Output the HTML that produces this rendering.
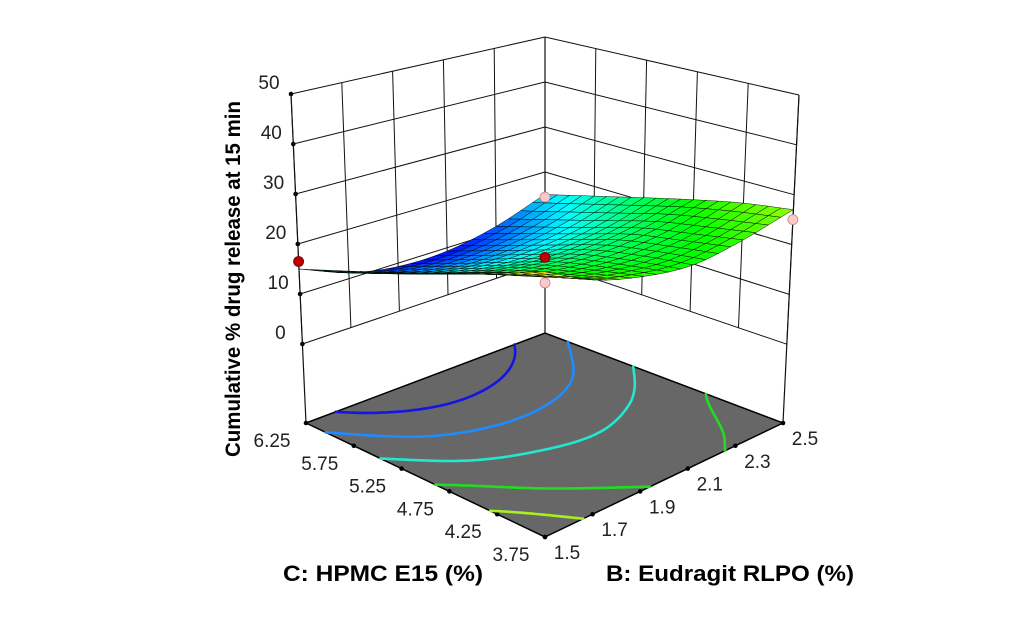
<!DOCTYPE html>
<html><head><meta charset="utf-8"><style>
html,body{margin:0;padding:0;background:#fff;}
svg{display:block;font-family:"Liberation Sans",sans-serif;}
</style></head><body>
<svg id="chart" width="1009" height="634" viewBox="0 0 1009 634" xmlns="http://www.w3.org/2000/svg">
<rect width="1009" height="634" fill="#fff"/>
<g id="walls"></g>
<g id="floor"></g>
<g id="contours"></g>
<g id="ptsBelow"></g>
<g id="surface"></g>
<g id="ptsAbove"></g>
<g id="labels"></g>
<text x="383" y="581" text-anchor="middle" font-size="22" font-weight="bold" fill="#000" textLength="200" lengthAdjust="spacingAndGlyphs">C: HPMC E15 (%)</text>
<text x="730" y="581" text-anchor="middle" font-size="22" font-weight="bold" fill="#000" textLength="248" lengthAdjust="spacingAndGlyphs">B: Eudragit RLPO (%)</text>
<text transform="translate(240,279) rotate(-90)" text-anchor="middle" font-size="21" font-weight="bold" fill="#000" textLength="356" lengthAdjust="spacingAndGlyphs">Cumulative % drug release at 15 min</text>
</svg>
<script>
const bVals=[1.5,1.7,1.9,2.1,2.3,2.5];
const cVals=[3.75,4.25,4.75,5.25,5.75,6.25];
const zTicks=[0,10,20,30,40,50];
const bLabels=["1.5","1.7","1.9","2.1","2.3","2.5"];
const cLabels=["3.75","4.25","4.75","5.25","5.75","6.25"];
// response values: one array per HPMC level, across Eudragit levels
const resp_c375=[32,27.3,24.6,23.3,24.6,27];
const resp_c425=[28.6,24.7,22.6,21.9,22.8,25.5];
const resp_c475=[25.2,21.9,20.3,19.9,20.9,23.3];
const resp_c525=[21.8,18.4,16.8,16.6,17.8,20.7];
const resp_c575=[18.4,14.8,13.0,13.0,14.6,17.9];
const resp_c625=[15,11.2,9.3,9.3,11.3,15];
const contourLevels=[12.5,16.4,20.3,24.2,28.1];
// design points: [B, C, response]
const designB=[1.5,1.5,2.5,2.5,1.5];
const designC=[6.25,3.75,6.25,3.75,3.75];
const designZ=[16.5,34.6,14.4,25,30];

const grid=[resp_c375,resp_c425,resp_c475,resp_c525,resp_c575,resp_c625];
const NS="http://www.w3.org/2000/svg";
const zMin=-15.8,zMax=50;
const F=[545,537],R=[783,423],B=[545,333],L=[306,423];
const Ft=[545,172],Rt=[799,95],Bt=[545,37],Lt=[291,94];
function uOf(b){return (b-bVals[0])/(bVals[5]-bVals[0]);}
function vOf(c){return (c-cVals[0])/(cVals[5]-cVals[0]);}
function wOf(z){return (z-zMin)/(zMax-zMin);}
function bil(P0,P1,P2,P3,u,v){return [(1-u)*(1-v)*P0[0]+u*(1-v)*P1[0]+u*v*P2[0]+(1-u)*v*P3[0],(1-u)*(1-v)*P0[1]+u*(1-v)*P1[1]+u*v*P2[1]+(1-u)*v*P3[1]];}
function proj(u,v,w){const a=bil(F,R,B,L,u,v),t=bil(Ft,Rt,Bt,Lt,u,v);return [a[0]+(t[0]-a[0])*w,a[1]+(t[1]-a[1])*w];}
function g(j,i){const n=5;
 if(i<0)return 2*g(j,0)-g(j,1); if(i>n)return 2*g(j,n)-g(j,n-1);
 if(j<0)return 2*g(0,i)-g(1,i); if(j>n)return 2*g(n,i)-g(n-1,i);
 return grid[j][i];}
function cr(p0,p1,p2,p3,t){return 0.5*((2*p1)+(-p0+p2)*t+(2*p0-5*p1+4*p2-p3)*t*t+(-p0+3*p1-3*p2+p3)*t*t*t);}
function zAt(u,v){const n=5;let x=u*n,y=v*n;let i=Math.min(Math.floor(x),n-1),j=Math.min(Math.floor(y),n-1);let fx=x-i,fy=y-j;
 const rows=[];for(let r=-1;r<=2;r++){rows.push(cr(g(j+r,i-1),g(j+r,i),g(j+r,i+1),g(j+r,i+2),fx));}
 return cr(rows[0],rows[1],rows[2],rows[3],fy);}
function el(tag,attrs,parent){const e=document.createElementNS(NS,tag);for(const k in attrs)e.setAttribute(k,attrs[k]);parent.appendChild(e);return e;}
function line(p,q,parent,w,col){return el('line',{x1:p[0].toFixed(1),y1:p[1].toFixed(1),x2:q[0].toFixed(1),y2:q[1].toFixed(1),stroke:col||'#000','stroke-width':w||1},parent);}
function dot(p,parent){return el('circle',{cx:p[0].toFixed(1),cy:p[1].toFixed(1),r:2.3,fill:'#000'},parent);}

// walls
const walls=document.getElementById('walls');
for(const b of bVals){const u=uOf(b);const l=line(proj(u,1,wOf(0)),proj(u,1,1),walls,1,'#111');
 
 }
for(const c of cVals){const v=vOf(c);const l=line(proj(1,v,wOf(0)),proj(1,v,1),walls,1,'#111');
 
 }
for(const z of zTicks){const w=wOf(z);
 const a=line(proj(0,1,w),proj(1,1,w),walls,1,'#111');
 
 
 const b=line(proj(1,1,w),proj(1,0,w),walls,1,'#111');
 
 
 const d=dot(proj(0,1,w),walls);
 
 }
[[0,1],[1,1],[1,0]].forEach(c=>{const l=line(proj(c[0],c[1],0),proj(c[0],c[1],1),walls,1.2,'#111');
 
 });

// floor
const floor=document.getElementById('floor');
const fp=[proj(0,0,0),proj(1,0,0),proj(1,1,0),proj(0,1,0)];
const poly=el('polygon',{points:fp.map(p=>p.join(',')).join(' '),fill:'#676767',stroke:'#000','stroke-width':1.5},floor);


for(const c of cVals){const d=dot(proj(0,vOf(c),0),floor);
 
 }
for(const b of bVals){const d=dot(proj(uOf(b),0,0),floor);
 
 }

// contours
const cols=['#1414e6','#1e8cff','#22e8d2','#22dc22','#a8f020'];
const cg=document.getElementById('contours');
const M=100;
contourLevels.forEach((lv,k)=>{let d='';
 for(let j=0;j<M;j++)for(let i=0;i<M;i++){
  const u0=i/M,u1=(i+1)/M,v0=j/M,v1=(j+1)/M;
  const c=[[u0,v0,zAt(u0,v0)],[u1,v0,zAt(u1,v0)],[u1,v1,zAt(u1,v1)],[u0,v1,zAt(u0,v1)]];
  const pts=[];
  for(let e=0;e<4;e++){const a=c[e],b=c[(e+1)%4];
   if((a[2]>=lv)!==(b[2]>=lv)){const t=(lv-a[2])/(b[2]-a[2]);pts.push(proj(a[0]+(b[0]-a[0])*t,a[1]+(b[1]-a[1])*t,0));}}
  if(pts.length>=2){d+='M'+pts[0][0].toFixed(1)+' '+pts[0][1].toFixed(1)+'L'+pts[1][0].toFixed(1)+' '+pts[1][1].toFixed(1);}
  if(pts.length==4){d+='M'+pts[2][0].toFixed(1)+' '+pts[2][1].toFixed(1)+'L'+pts[3][0].toFixed(1)+' '+pts[3][1].toFixed(1);}
 }
 const p=el('path',{d:d,stroke:cols[k],'stroke-width':2.6,fill:'none','stroke-linecap':'round'},cg);
 
 
});

// colormap
function cmap(z){let t=Math.max(0,Math.min(1,(z-9)/(37-9)));
 const stops=[[0,0,255],[0,255,255],[0,255,0],[255,255,0],[255,0,0]];
 const s=t*4,i=Math.min(3,Math.floor(s)),f=s-i;
 const a=stops[i],b=stops[i+1];
 return 'rgb('+Math.round(a[0]+(b[0]-a[0])*f)+','+Math.round(a[1]+(b[1]-a[1])*f)+','+Math.round(a[2]+(b[2]-a[2])*f)+')';}

// design points
function drawPt(k,parent){const p=proj(uOf(designB[k]),vOf(designC[k]),wOf(designZ[k]));
 const red=designZ[k]>zAt(uOf(designB[k]),vOf(designC[k]));
 const c=el('circle',{cx:p[0].toFixed(1),cy:p[1].toFixed(1),r:5,fill:red?'#c00000':'#ffc8c8',stroke:red?'#600':'#b88','stroke-width':0.8},parent);
 
 }
drawPt(3,document.getElementById('ptsBelow'));
drawPt(4,document.getElementById('ptsBelow'));

// surface
const sg=document.getElementById('surface');
const N=20,cells=[];
for(let j=0;j<N;j++)for(let i=0;i<N;i++)cells.push([i,j]);
cells.sort((a,b)=>(b[0]+b[1])-(a[0]+a[1]));
for(const [i,j] of cells){const us=[i/N,(i+1)/N,(i+1)/N,i/N],vs=[j/N,j/N,(j+1)/N,(j+1)/N];
 let zs=0;const pts=[];
 for(let k=0;k<4;k++){const z=zAt(us[k],vs[k]);zs+=z;const p=proj(us[k],vs[k],wOf(z));pts.push(p[0].toFixed(1)+','+p[1].toFixed(1));}
 const q=el('polygon',{points:pts.join(' '),fill:cmap(zs/4),stroke:'#000','stroke-width':0.45,'stroke-linejoin':'round'},sg);
 
 }
drawPt(0,document.getElementById('ptsAbove'));
drawPt(1,document.getElementById('ptsAbove'));
drawPt(2,document.getElementById('ptsAbove'));

// labels
const lg=document.getElementById('labels');
zTicks.forEach((z,k)=>{const p=proj(0,1,wOf(z));
 const t=el('text',{x:(p[0]-22).toFixed(1),y:(p[1]-5).toFixed(1),'text-anchor':'middle','font-size':19,fill:'#222'},lg);
 t.textContent=String(z);
 
 });
cVals.forEach((c,k)=>{const p=proj(0,vOf(c),0);
 const t=el('text',{x:(p[0]-34).toFixed(1),y:(p[1]+24).toFixed(1),'text-anchor':'middle','font-size':19,fill:'#222'},lg);
 t.textContent=cLabels[k];
 
 });
bVals.forEach((b,k)=>{const p=proj(uOf(b),0,0);
 const t=el('text',{x:(p[0]+22).toFixed(1),y:(p[1]+22).toFixed(1),'text-anchor':'middle','font-size':19,fill:'#222'},lg);
 t.textContent=bLabels[k];
 
 });
</script>
</body></html>
